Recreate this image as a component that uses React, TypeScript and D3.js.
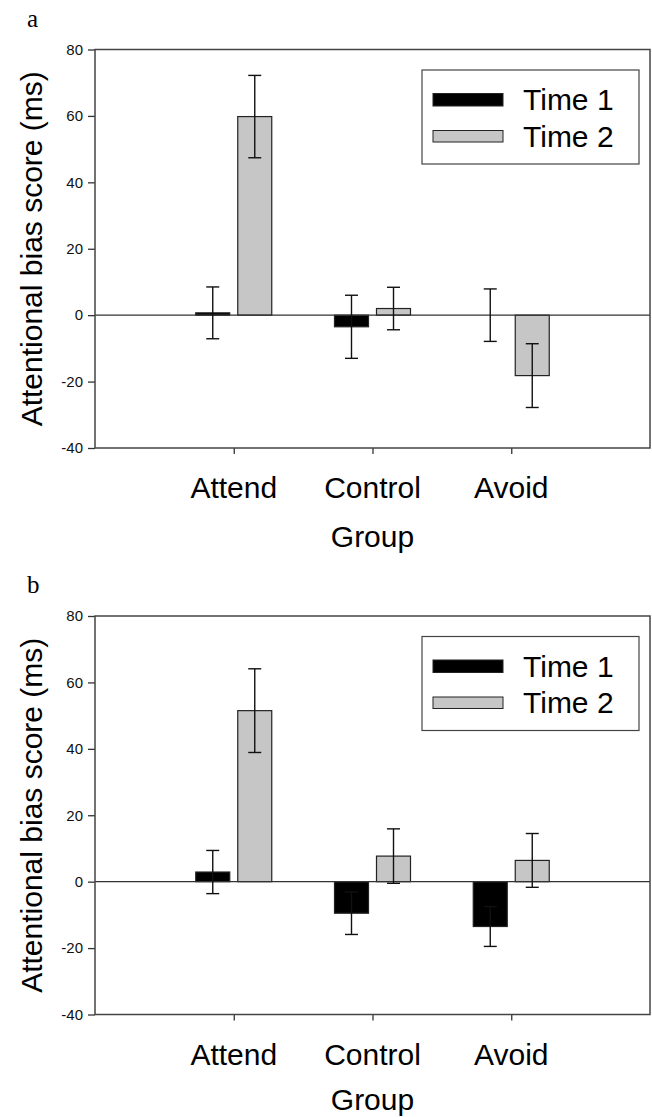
import React, { useRef, useEffect } from 'react';
import * as d3 from 'd3';

const groups = ['Attend', 'Control', 'Avoid'];
const seriesNames = ['Time 1', 'Time 2'];
const yTicks = [-40, -20, 0, 20, 40, 60, 80];

// panel a
const aTime1 = [0.7, -3.5, 0];
const aTime1Err = [7.8, 9.5, 7.9];
const aTime2 = [59.8, 2.0, -18.2];
const aTime2Err = [12.4, 6.4, 9.6];

// panel b
const bTime1 = [2.9, -9.5, -13.5];
const bTime1Err = [6.5, 6.4, 6.0];
const bTime2 = [51.5, 7.7, 6.4];
const bTime2Err = [12.6, 8.2, 8.1];

const colours = ['#000000', '#c6c6c6'];
const FONT = '"Liberation Sans", Arial, sans-serif';

interface PanelData {
  label: string;
  values: number[][];
  errors: number[][];
}

const panels: PanelData[] = [
  { label: 'a', values: [aTime1, aTime2], errors: [aTime1Err, aTime2Err] },
  { label: 'b', values: [bTime1, bTime2], errors: [bTime1Err, bTime2Err] },
];

const App: React.FC = () => {
  const svgRef = useRef<SVGSVGElement | null>(null);

  useEffect(() => {
    if (!svgRef.current) return;
    const svg = d3.select(svgRef.current);
    svg.selectAll('*').remove();

    const height = 1117;
    const panelOffset = 566.5;
    const plot = { left: 95, right: 650, top: 49.5, bottom: 448 };
    const plotW = plot.right - plot.left;

    const x = d3.scalePoint<string>()
      .domain(groups)
      .range([plot.left + plotW / 4, plot.left + (3 * plotW) / 4]);

    const inner = d3.scaleBand<string>()
      .domain(seriesNames)
      .range([-38, 38])
      .paddingInner(0.1905);

    const y = d3.scaleLinear().domain([-40, 80]).range([plot.bottom, plot.top]);

    panels.forEach((panel, pi) => {
      const offset = pi * panelOffset;
      const g = svg.append('g').attr('transform', `translate(0,${offset})`);

      // panel letter
      g.append('text')
        .attr('x', 27)
        .attr('y', 26.5)
        .style('font-family', '"Liberation Serif", "Times New Roman", serif')
        .style('font-size', '25px')
        .text(panel.label);

      // y axis
      const yAxis = g.append('g')
        .attr('transform', `translate(${plot.left},0)`)
        .call(d3.axisLeft(y).tickValues(yTicks).tickSize(7).tickPadding(5).tickFormat(d => String(d)));
      yAxis.select('.domain').remove();
      yAxis.selectAll('line').attr('stroke', '#333').attr('stroke-width', 1.3);
      yAxis.selectAll('text')
        .style('font-family', FONT)
        .style('font-size', '15px')
        .attr('fill', '#111');

      // x axis ticks
      const xAxis = g.append('g')
        .attr('transform', `translate(0,${plot.bottom})`)
        .call(d3.axisBottom(x).tickSize(6).tickFormat(() => ''));
      xAxis.select('.domain').remove();
      xAxis.selectAll('line').attr('stroke', '#333').attr('stroke-width', 1.3);

      // category labels
      g.selectAll('.cat')
        .data(groups)
        .enter().append('text')
        .attr('class', 'cat')
        .attr('x', d => x(d) as number)
        .attr('y', 498)
        .attr('text-anchor', 'middle')
        .style('font-family', FONT)
        .style('font-size', '30px')
        .text(d => d);

      // keep the lower "Group" inside the picture
      g.append('text')
        .attr('x', x('Control') as number)
        .attr('y', Math.min(547, height - 7 - offset))
        .attr('text-anchor', 'middle')
        .style('font-family', FONT)
        .style('font-size', '30px')
        .text('Group');

      // y title
      g.append('text')
        .attr('transform', `translate(41.5,${(plot.top + plot.bottom) / 2}) rotate(-90)`)
        .attr('text-anchor', 'middle')
        .style('font-family', FONT)
        .style('font-size', '30px')
        .text('Attentional bias score (ms)');

      // bars
      seriesNames.forEach((s, si) => {
        g.selectAll(`.bar${si}`)
          .data(panel.values[si])
          .enter().append('rect')
          .attr('class', `bar${si}`)
          .attr('x', (d, i) => (x(groups[i]) as number) + (inner(s) as number))
          .attr('y', d => y(Math.max(0, d)))
          .attr('width', inner.bandwidth())
          .attr('height', d => Math.abs(y(d) - y(0)))
          .attr('fill', colours[si])
          .attr('stroke', d => (d === 0 ? 'none' : '#222'))
          .attr('stroke-width', 1.2);
      });

      // zero line
      g.append('line')
        .attr('x1', plot.left)
        .attr('x2', plot.right)
        .attr('y1', y(0))
        .attr('y2', y(0))
        .attr('stroke', '#333')
        .attr('stroke-width', 1.3);

      // error bars
      seriesNames.forEach((s, si) => {
        panel.values[si].forEach((v, i) => {
          const cx = (x(groups[i]) as number) + (inner(s) as number) + inner.bandwidth() / 2;
          const e = panel.errors[si][i];
          const eg = g.append('g').attr('stroke', '#111').attr('stroke-width', 1.4);
          eg.append('line').attr('x1', cx).attr('x2', cx).attr('y1', y(v + e)).attr('y2', y(v - e));
          eg.append('line').attr('x1', cx - 6.5).attr('x2', cx + 6.5).attr('y1', y(v + e)).attr('y2', y(v + e));
          eg.append('line').attr('x1', cx - 6.5).attr('x2', cx + 6.5).attr('y1', y(v - e)).attr('y2', y(v - e));
        });
      });

      // frame
      g.append('rect')
        .attr('x', plot.left)
        .attr('y', plot.top)
        .attr('width', plotW)
        .attr('height', plot.bottom - plot.top)
        .attr('fill', 'none')
        .attr('stroke', '#444')
        .attr('stroke-width', 1.5);

      // legend
      const legend = g.append('g');
      legend.append('rect')
        .attr('x', 422)
        .attr('y', 70)
        .attr('width', 217)
        .attr('height', 94)
        .attr('fill', 'white')
        .attr('stroke', '#444')
        .attr('stroke-width', 1.2);

      seriesNames.forEach((s, si) => {
        legend.append('rect')
          .attr('x', 433)
          .attr('y', 93.5 + si * 37)
          .attr('width', 70)
          .attr('height', si === 0 ? 12.5 : 11.5)
          .attr('fill', colours[si])
          .attr('stroke', '#222')
          .attr('stroke-width', 1);
        legend.append('text')
          .attr('x', 523)
          .attr('y', 110 + si * 36.7)
          .style('font-family', FONT)
          .style('font-size', '30px')
          .text(s);
      });
    });
  }, []);

  return (
    <svg
      ref={svgRef}
      width={652}
      height={1117}
      style={{ position: 'absolute', left: 0, top: 0, background: 'white' }}
    ></svg>
  );
};

export default App;
